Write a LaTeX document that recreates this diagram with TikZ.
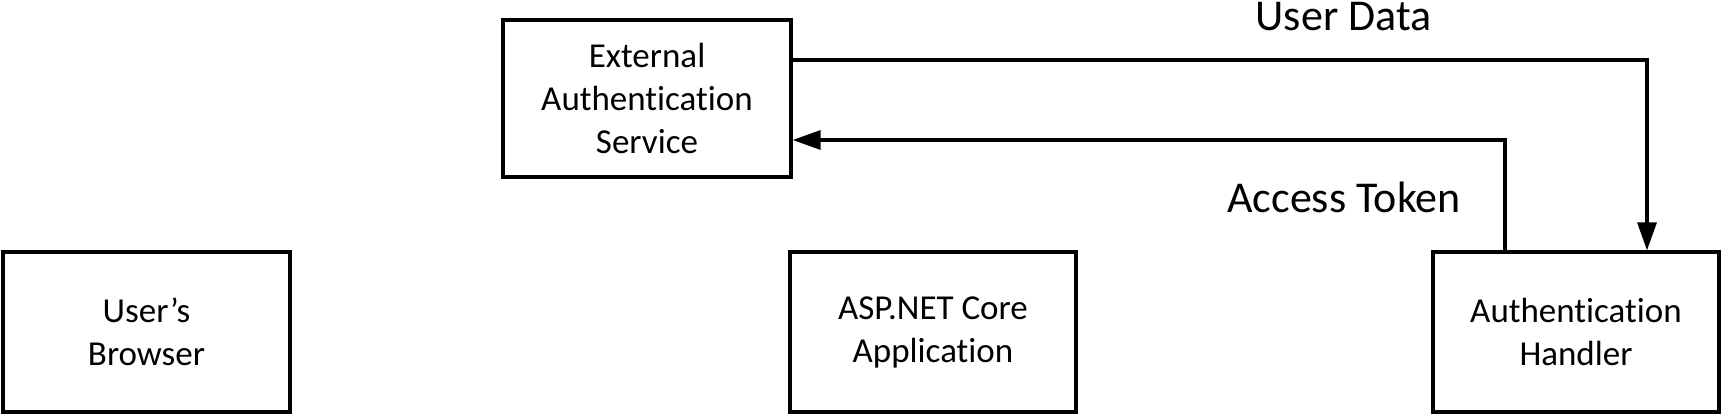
\documentclass[tikz,border=0pt]{standalone}
\usepackage{fontspec}
\setmainfont[RawFeature={-liga}]{Carlito}
\usetikzlibrary{arrows.meta}
\begin{document}
\begin{tikzpicture}[x=1pt,y=-1pt,
  box/.style={draw=black,line width=3.2pt,fill=white,minimum height=160pt,
    align=center,font=\fontsize{35}{43}\selectfont,inner sep=0pt},
  conn/.style={draw=black,line width=3.2pt},
  tip/.style={-{Triangle[length=28pt,width=19pt]}},
  lbl/.style={font=\fontsize{44}{50}\selectfont,anchor=base,inner sep=0pt}]
\useasboundingbox (0,0) rectangle (1725,419);
\node[box,minimum width=287pt] (browser) at (146.5,332) {User’s\\Browser};
\node[box,minimum width=286pt] (asp) at (933,332) {ASP.NET Core\\Application};
\node[box,minimum width=286pt] (handler) at (1576,332) {Authentication\\Handler};
\node[box,minimum width=288pt,minimum height=157pt] (ext) at (647,98.5) {External\\Authentication\\Service};
\coordinate (ud) at (1647,60);
\coordinate (at) at (1505,140);
\draw[conn,tip] (ext.east |- ud) -- (ud) -- (ud |- handler.north);
\draw[conn,tip] (handler.north -| at) -- (at) -- (at -| ext.east);
\node[lbl] (udl) at (1343.5,31) {User Data};
\node[lbl] (atl) at (1344,213) {Access Token};
\end{tikzpicture}
\end{document}
